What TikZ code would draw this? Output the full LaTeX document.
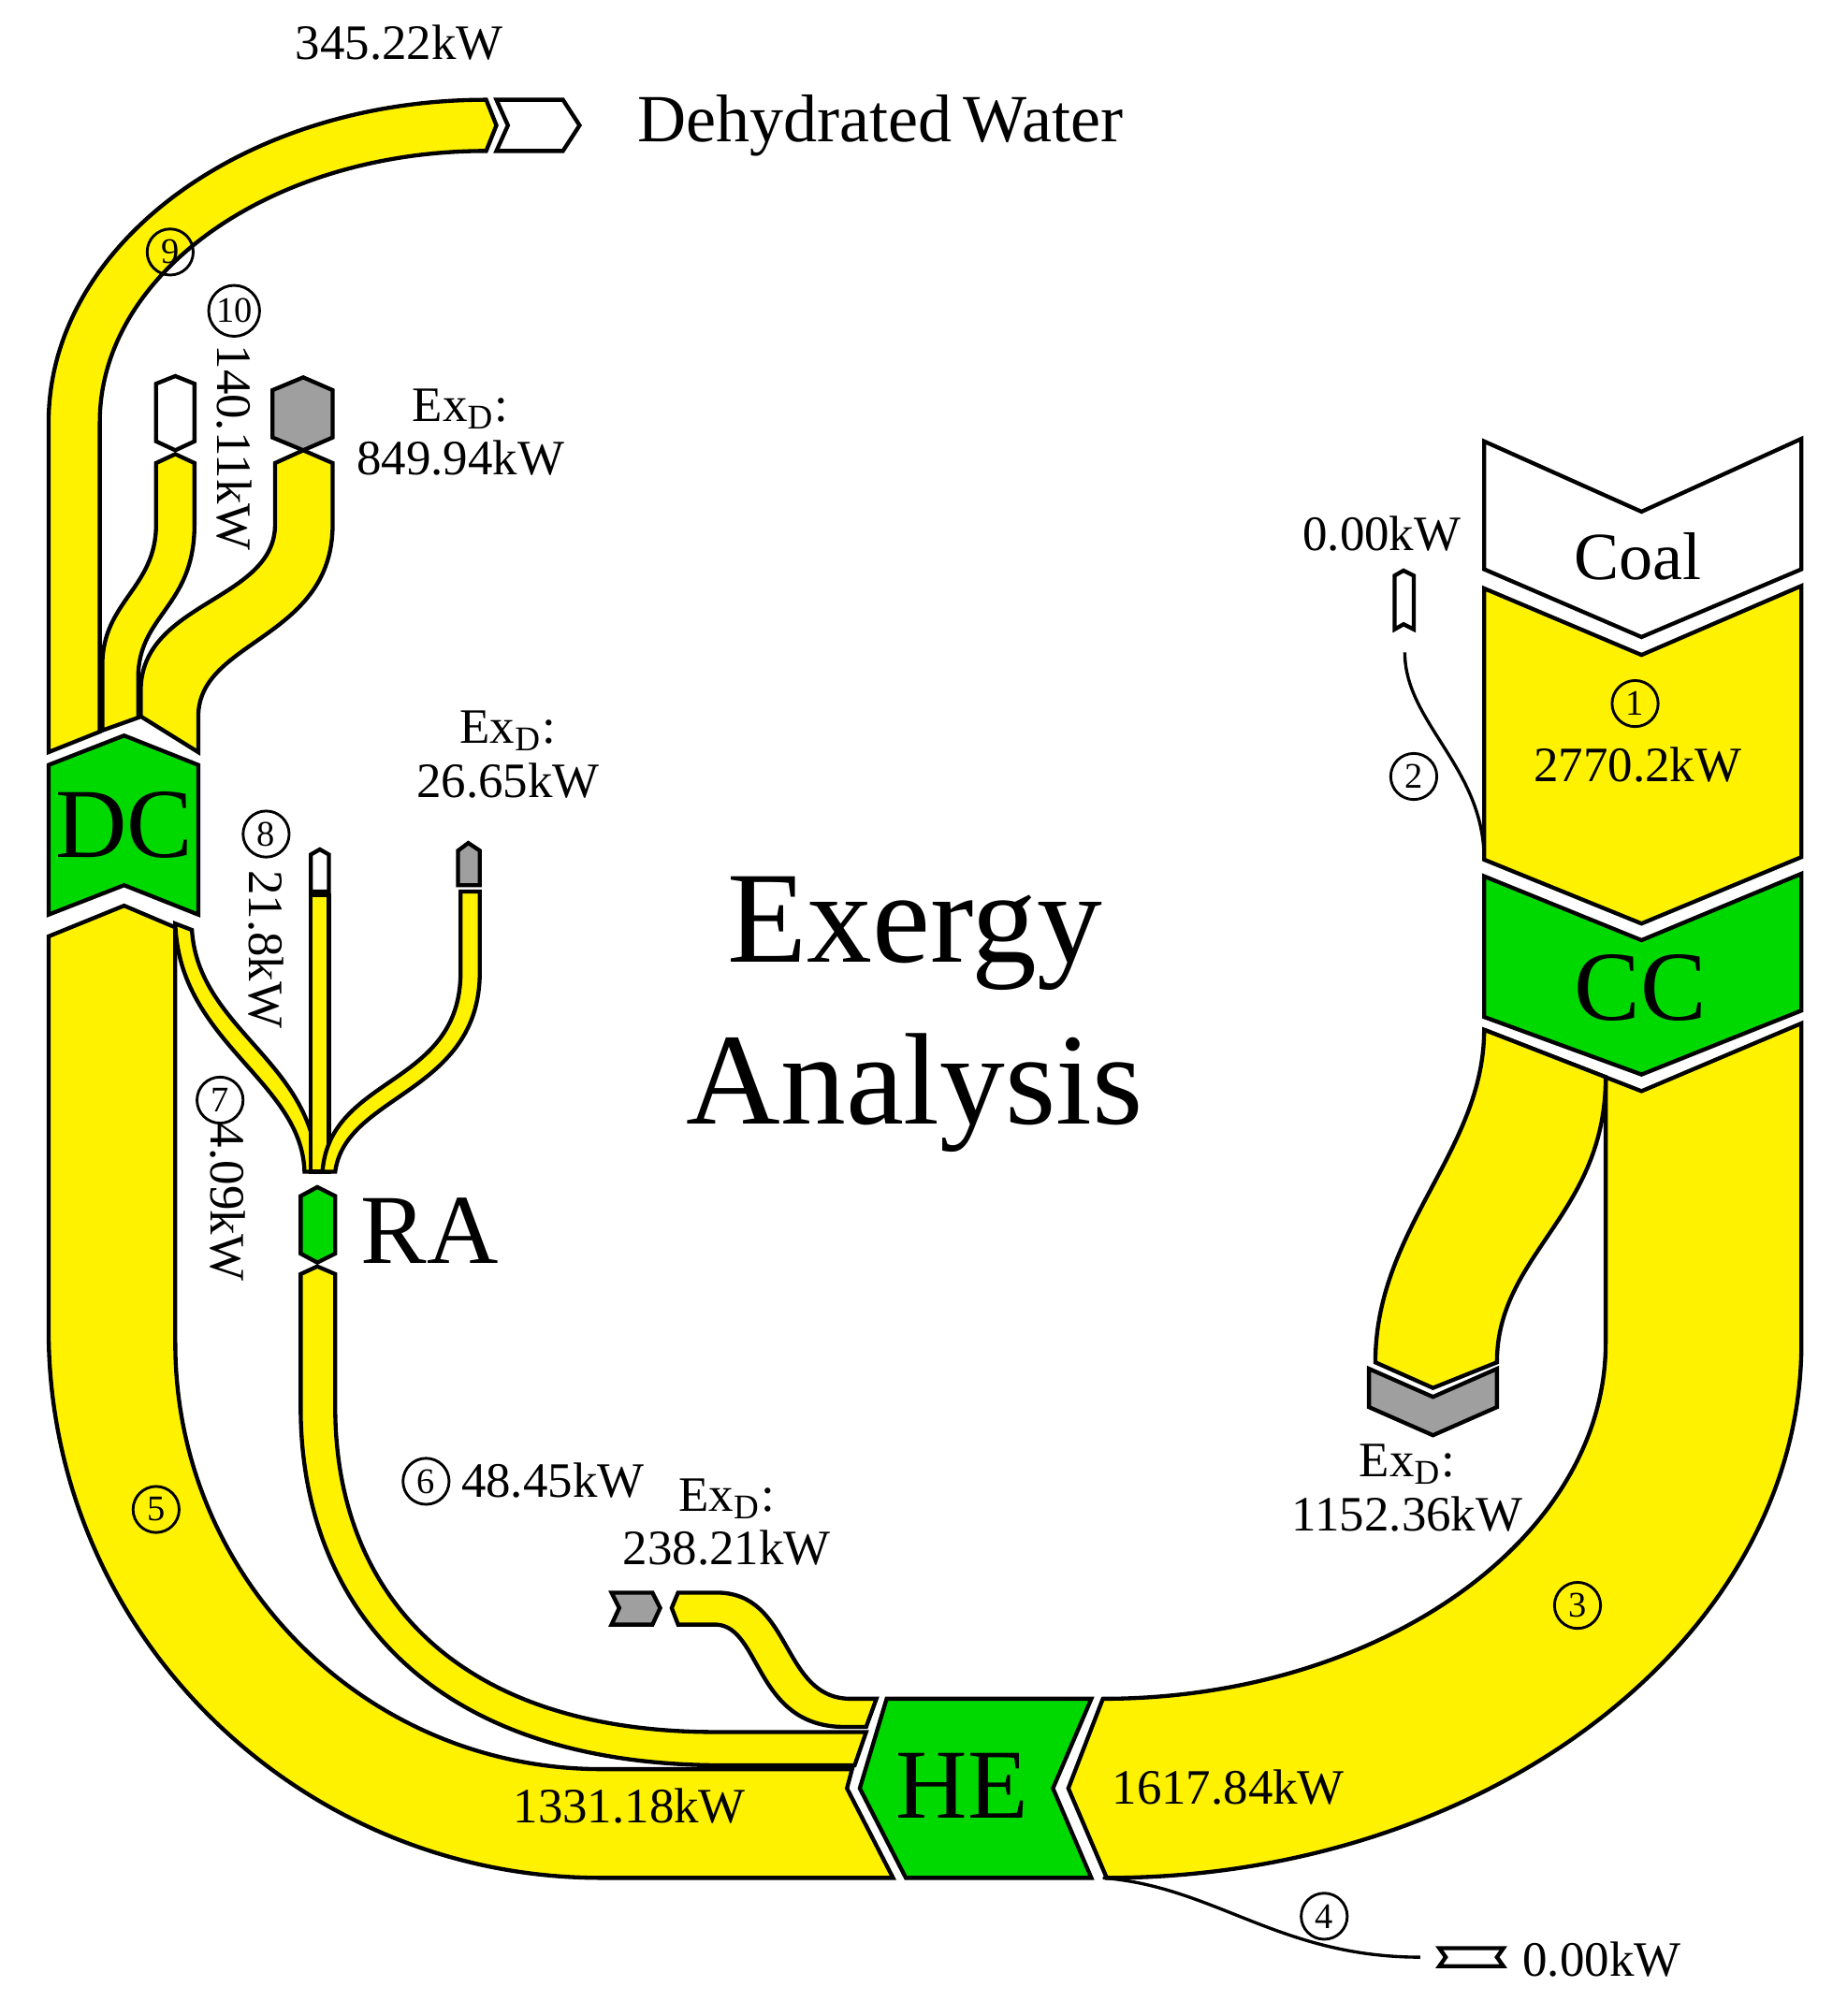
\documentclass[tikz,border=0pt]{standalone}
\usepackage{fontspec}
\setmainfont{Liberation Serif}
\begin{document}
\begin{tikzpicture}[x=0.01cm,y=-0.01cm,line width=0.9pt,
 fl/.style={fill=yellow,draw=black},
 gr/.style={fill=green!85!black,draw=black},
 gy/.style={fill=gray!75,draw=black},
 wh/.style={fill=white,draw=black},
 lab/.style={font=\fontsize{11}{12}\selectfont,inner sep=0pt},
 big/.style={font=\fontsize{22}{24}\selectfont,inner sep=0pt},
 cn/.style={circle,draw,line width=0.6pt,inner sep=0.6pt,minimum size=0.36cm,font=\fontsize{8}{9}\selectfont}]
\useasboundingbox (0,0) rectangle (1443,1576);
% Coal, flow 1, CC
\draw[wh] (1160,345)--(1283,400)--(1408,343)--(1408,445)--(1283,498)--(1160,445)--cycle;
\node[font=\fontsize{15}{16}\selectfont] (coal) at (1280,435) {Coal};
\draw[fl] (1160,460)--(1283,512)--(1408,458)--(1408,670)--(1283,722)--(1160,672)--cycle;
\draw[gr] (1160,685)--(1283,735)--(1408,683)--(1408,790)--(1283,840)--(1160,795)--cycle;
\node[big] (cc) at (1282,772) {CC};
% flow 2
\draw[wh] (1090,450)--(1097,446)--(1105,450)--(1105,492)--(1097,488)--(1090,492)--cycle;
\draw[line width=0.7pt] (1098,510) .. controls (1098,565) and (1160,600) .. (1160,672);
% flow 3
\draw[fl] (1160,805)--(1283,853)--(1408,800)--(1408,1050) .. controls (1408,1281) and (1162,1468) .. (865,1468)--(835,1398)--(862,1328) .. controls (1078,1328) and (1255,1203) .. (1255,1050)--(1255,842)--cycle;
\draw[fl] (1160,805)--(1255,842) .. controls (1255,950) and (1170,980) .. (1170,1065)--(1120,1085)--(1075,1065) .. controls (1075,960) and (1160,900) .. cycle;
\draw[gy] (1070,1070)--(1120,1092)--(1170,1070)--(1170,1100)--(1120,1122)--(1070,1100)--cycle;
% HE
\draw[gr] (693,1328)--(853,1328)--(823,1398)--(853,1468)--(708,1468)--(672,1398)--cycle;
\node[big] (he) at (752,1396) {HE};
% flow 4
\draw[line width=0.7pt] (862,1468) .. controls (950,1475) and (1000,1530) .. (1110,1530);
\draw[wh] (1125,1523)--(1175,1523)--(1170,1530)--(1175,1537)--(1125,1537)--(1130,1530)--cycle;
% flow 5
\draw[fl] (698,1468)--(470,1468) .. controls (232,1468) and (38,1276) .. (38,1040)--(38,732)--(97,708)--(137,725)--(137,1050) .. controls (137,1234) and (286,1383) .. (470,1383)--(666,1383)--(662,1398)--cycle;
% flow to ExD 238
\draw[fl] (685,1328)--(665,1328) .. controls (610,1328) and (620,1245) .. (560,1245)--(530,1245)--(525,1257)--(530,1270)--(560,1270) .. controls (595,1272) and (590,1350) .. (660,1350)--(677,1350)--cycle;
\draw[gy] (478,1245)--(510,1245)--(516,1257)--(510,1270)--(478,1270)--(484,1257)--cycle;
% flow 6
\draw[fl] (677,1354)--(668,1380)--(560,1380) .. controls (330,1378) and (235,1250) .. (235,1100)--(235,996)--(248,990)--(262,996)--(262,1100) .. controls (262,1240) and (350,1354) .. (560,1354)--cycle;
% RA
\draw[gr] (235,935)--(248,928)--(262,935)--(262,980)--(248,987)--(235,980)--cycle;
\node[big] (ra) at (336,962) {RA};
% flows into RA
\draw[fl] (137,722)--(150,727) .. controls (155,805) and (246,830) .. (248,916)--(238,916) .. controls (236,845) and (140,815) .. cycle;
\draw[fl] (243,700)--(257,700)--(257,916)--(243,916)--cycle;
\draw[wh] (243,668)--(250,664)--(257,668)--(257,697)--(243,697)--cycle;
\draw[fl] (360,697)--(375,697)--(375,760) .. controls (375,855) and (270,855) .. (262,916)--(252,916) .. controls (258,840) and (360,850) .. (360,760)--cycle;
\draw[gy] (358,665)--(366,659)--(375,665)--(375,692)--(358,692)--cycle;
% DC
\draw[gr] (38,598)--(97,575)--(155,598)--(155,715)--(97,692)--(38,715)--cycle;
\node[big] (dc) at (97,645) {DC};
% flow 9
\draw[fl] (38,588)--(38,330) .. controls (38,191) and (191,78) .. (380,78)--(388,98)--(380,118) .. controls (213,118) and (78,213) .. (78,330)--(78,572)--cycle;
\draw[wh] (388,78)--(440,78)--(453,98)--(440,118)--(388,118)--(397,98)--cycle;
\node[font=\fontsize{15}{16}\selectfont,anchor=west] (dw) at (485,98) {Dehydrated\,Water};
% flow 10
\draw[fl] (80,571)--(80,520) .. controls (80,470) and (122,460) .. (122,410)--(122,362)--(137,355)--(152,362)--(152,410) .. controls (152,475) and (108,480) .. (108,530)--(108,561)--cycle;
\draw[wh] (122,300)--(137,294)--(152,300)--(152,345)--(137,352)--(122,345)--cycle;
% ExD 849
\draw[fl] (110,560)--(110,540) .. controls (110,470) and (215,470) .. (215,410)--(215,362)--(237,352)--(260,362)--(260,410) .. controls (260,500) and (155,500) .. (155,560)--(155,588)--cycle;
\draw[gy] (213,305)--(237,295)--(260,305)--(260,342)--(237,352)--(213,342)--cycle;
% labels
\node[lab] (l1) at (312,33) {345.22kW};
\node[cn] (c9) at (133,197) {9};
\node[cn] (c10) at (183,243) {10};
\node[lab,rotate=-90] (l10) at (183,350) {140.11kW};
\node[lab,align=center] (l849) at (360,338) {Ex\textsubscript{D}:\\849.94kW};
\node[lab] (l0a) at (1080,417) {0.00kW};
\node[cn] (c1) at (1278,550) {1};
\node[lab] (l2770) at (1280,598) {2770.2kW};
\node[cn] (c2) at (1105,607) {2};
\node[lab,align=center] (l26) at (397,590) {Ex\textsubscript{D}:\\26.65kW};
\node[cn] (c8) at (208,652) {8};
\node[lab,rotate=-90] (l8) at (208,742) {21.8kW};
\node[cn] (c7) at (172,860) {7};
\node[lab,rotate=-90] (l7) at (178,940) {4.09kW};
\node[font=\fontsize{29}{36}\selectfont,align=center,inner sep=0pt] (ea) at (715,793) {Exergy\\Analysis};
\node[lab,align=center] (l1152) at (1100,1163) {Ex\textsubscript{D}:\\1152.36kW};
\node[cn] (c3) at (1233,1255) {3};
\node[cn] (c6) at (333,1158) {6};
\node[lab] (l6) at (432,1157) {48.45kW};
\node[lab,align=center] (l238) at (568,1190) {Ex\textsubscript{D}:\\238.21kW};
\node[cn] (c5) at (122,1180) {5};
\node[lab] (l1331) at (492,1412) {1331.18kW};
\node[lab] (l1617) at (960,1397) {1617.84kW};
\node[cn] (c4) at (1035,1498) {4};
\node[lab] (l0b) at (1252,1532) {0.00kW};
\end{tikzpicture}
\end{document}
